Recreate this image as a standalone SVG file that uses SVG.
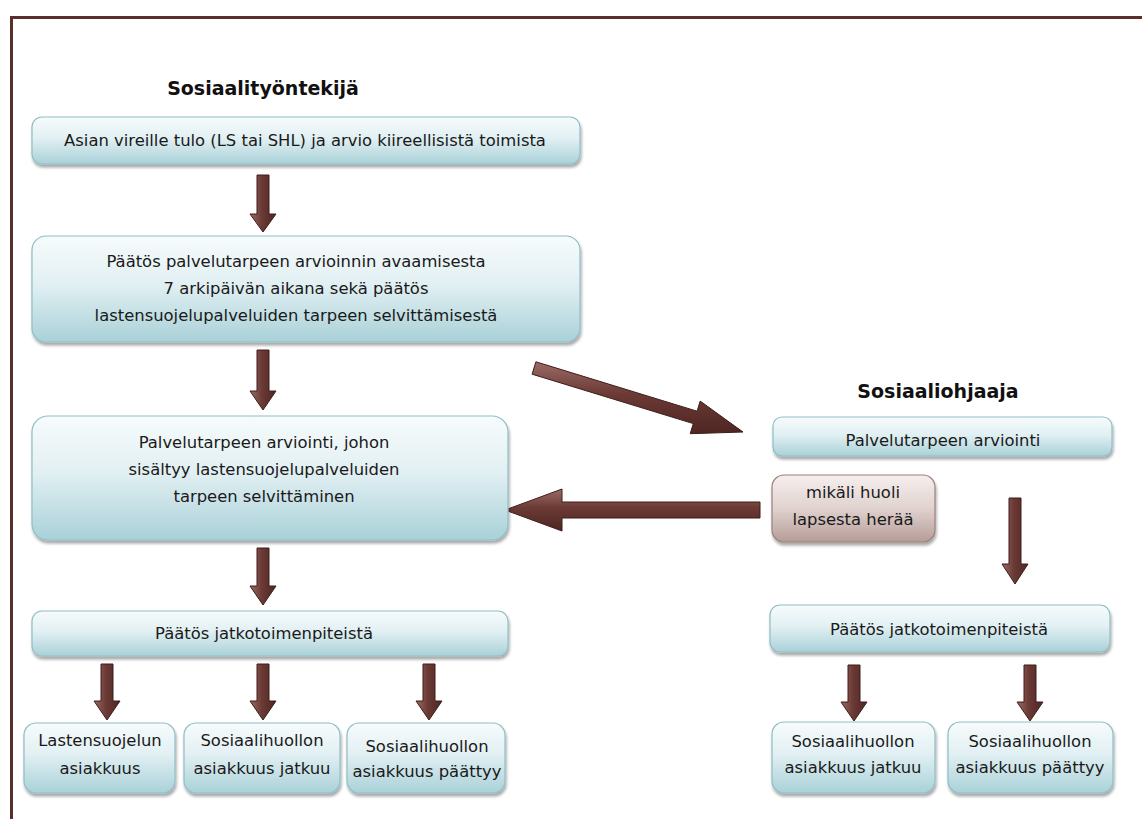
<svg xmlns="http://www.w3.org/2000/svg" width="1142" height="819" viewBox="0 0 1142 819">
<defs>
<linearGradient id="gBox" x1="0" y1="0" x2="0" y2="1">
<stop offset="0" stop-color="#f7fbfc"/>
<stop offset="0.45" stop-color="#e2f0f3"/>
<stop offset="1" stop-color="#a9d1d8"/>
</linearGradient>
<linearGradient id="gBrown" x1="0" y1="0" x2="0" y2="1">
<stop offset="0" stop-color="#f6efee"/>
<stop offset="0.5" stop-color="#e0d2cf"/>
<stop offset="1" stop-color="#b59c97"/>
</linearGradient>
<linearGradient id="gArrow" x1="0" y1="0" x2="1" y2="0">
<stop offset="0" stop-color="#9a6b65"/>
<stop offset="0.45" stop-color="#6b3a35"/>
<stop offset="1" stop-color="#4e2622"/>
</linearGradient>
<linearGradient id="gArrowH" x1="0" y1="0" x2="0" y2="1">
<stop offset="0" stop-color="#9a6b65"/>
<stop offset="0.45" stop-color="#6b3a35"/>
<stop offset="1" stop-color="#4e2622"/>
</linearGradient>
<filter id="sh" x="-10%" y="-10%" width="130%" height="140%">
<feGaussianBlur in="SourceAlpha" stdDeviation="1.5"/>
<feOffset dx="1" dy="2.5" result="b"/>
<feComponentTransfer><feFuncA type="linear" slope="0.35"/></feComponentTransfer>
<feMerge><feMergeNode/><feMergeNode in="SourceGraphic"/></feMerge>
</filter>
</defs>
<style>
.box{fill:url(#gBox);stroke:#8fbec6;stroke-width:1.2;filter:url(#sh)}
.bbox{fill:url(#gBrown);stroke:#9b807b;stroke-width:1.2;filter:url(#sh)}
.t{font-family:"DejaVu Sans","Liberation Sans",sans-serif;font-size:16.4px;fill:#1a1a1a;text-anchor:middle}
.h{font-family:"DejaVu Sans","Liberation Sans",sans-serif;font-size:19px;font-weight:bold;fill:#111;text-anchor:middle}
.arr{fill:url(#gArrow);stroke:#3e1d1a;stroke-width:1}
.arrh{fill:url(#gArrowH);stroke:#3e1d1a;stroke-width:1}
.frame{fill:none;stroke:#5a2e2a;stroke-width:3}
</style>
<rect width="1142" height="819" fill="#ffffff"/>
<path class="frame" d="M11.5,819 V17.5 H1142"/>

<text class="h" x="263" y="95">Sosiaalityöntekijä</text>
<text class="h" x="938" y="398">Sosiaaliohjaaja</text>

<g id="connectors">
<path class="arr" d="M257,175 H269 V214 H276 L263,232 L250,214 H257 Z"/>
<path class="arr" d="M257,350 H269 V391 H276 L263,410 L250,391 H257 Z"/>
<path class="arr" d="M257,548 H269 V586 H276 L263,605 L250,586 H257 Z"/>
<path class="arr" d="M101,664 H113 V701 H120 L107,720 L94,701 H101 Z"/>
<path class="arr" d="M257,664 H269 V701 H276 L263,720 L250,701 H257 Z"/>
<path class="arr" d="M423,664 H435 V701 H442 L429,720 L416,701 H423 Z"/>
<path class="arr" d="M1009,498 H1021 V564 H1028 L1015,584 L1002,564 H1009 Z"/>
<path class="arr" d="M848,665 H860 V702 H867 L854,721 L841,702 H848 Z"/>
<path class="arr" d="M1024,665 H1036 V702 H1043 L1030,721 L1017,702 H1024 Z"/>
<path class="arrh" d="M535.9,361.8 L697.1,411.2 L700.2,401.1 L743,432 L690.2,433.7 L693.3,423.6 L532.1,374.2 Z"/>
<path class="arrh" d="M760,502 V518 H562 V531 L505,510 L562,489 V502 Z"/>
</g>

<g id="n1"><rect class="box" x="32" y="117" width="548" height="47" rx="10"/>
<text class="t" x="305" y="146">Asian vireille tulo (LS tai SHL) ja arvio kiireellisistä toimista</text></g>

<g id="n2"><rect class="box" x="32" y="236" width="548" height="106" rx="14"/>
<text class="t" x="296" y="267">Päätös palvelutarpeen arvioinnin avaamisesta</text>
<text class="t" x="296" y="294">7 arkipäivän aikana sekä päätös</text>
<text class="t" x="296" y="321">lastensuojelupalveluiden tarpeen selvittämisestä</text></g>

<g id="n3"><rect class="box" x="32" y="416" width="476" height="124" rx="16"/>
<text class="t" x="264" y="448">Palvelutarpeen arviointi, johon</text>
<text class="t" x="264" y="475">sisältyy lastensuojelupalveluiden</text>
<text class="t" x="264" y="502">tarpeen selvittäminen</text></g>

<g id="n4"><rect class="box" x="32" y="611" width="476" height="45" rx="10"/>
<text class="t" x="264" y="639">Päätös jatkotoimenpiteistä</text></g>

<g id="n5"><rect class="box" x="24" y="723" width="151" height="70" rx="12"/>
<text class="t" x="100" y="746">Lastensuojelun</text>
<text class="t" x="100" y="774">asiakkuus</text></g>

<g id="n6"><rect class="box" x="184" y="723" width="156" height="70" rx="12"/>
<text class="t" x="262" y="746">Sosiaalihuollon</text>
<text class="t" x="262" y="774">asiakkuus jatkuu</text></g>

<g id="n7"><rect class="box" x="347" y="723" width="158" height="70" rx="12"/>
<text class="t" x="427" y="752">Sosiaalihuollon</text>
<text class="t" x="427" y="777">asiakkuus päättyy</text></g>

<g id="r1"><rect class="box" x="773" y="417" width="339" height="39" rx="9"/>
<text class="t" x="943" y="446">Palvelutarpeen arviointi</text></g>

<g id="r2"><rect class="bbox" x="772" y="475" width="163" height="67" rx="12"/>
<text class="t" x="853" y="498">mikäli huoli</text>
<text class="t" x="853" y="525">lapsesta herää</text></g>

<g id="r3"><rect class="box" x="770" y="605" width="340" height="47" rx="10"/>
<text class="t" x="939" y="635">Päätös jatkotoimenpiteistä</text></g>

<g id="r4"><rect class="box" x="772" y="722" width="163" height="71" rx="12"/>
<text class="t" x="853" y="747">Sosiaalihuollon</text>
<text class="t" x="853" y="773">asiakkuus jatkuu</text></g>

<g id="r5"><rect class="box" x="948" y="722" width="165" height="71" rx="12"/>
<text class="t" x="1030" y="747">Sosiaalihuollon</text>
<text class="t" x="1030" y="773">asiakkuus päättyy</text></g>
</svg>
